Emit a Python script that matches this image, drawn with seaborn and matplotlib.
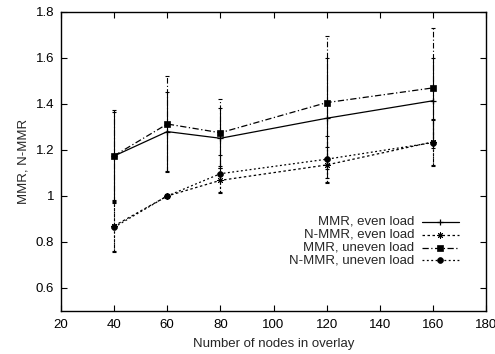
import numpy as np
import pandas as pd
import matplotlib
matplotlib.use("Agg")
import matplotlib.pyplot as plt
from matplotlib.ticker import FuncFormatter, MultipleLocator
from matplotlib.lines import Line2D
import seaborn as sns

nodes = [40, 60, 80, 120, 160]
mmr_even = [1.174, 1.28, 1.251, 1.338, 1.414]
mmr_even_err = [0.19, 0.17, 0.13, 0.26, 0.185]
nmmr_even = [0.87, 1.0, 1.068, 1.135, 1.235]
nmmr_even_err = [0.11, 0.005, 0.055, 0.08, 0.1]
mmr_uneven = [1.175, 1.313, 1.275, 1.406, 1.47]
mmr_uneven_err = [0.2, 0.207, 0.145, 0.29, 0.26]
nmmr_uneven = [0.864, 1.0, 1.097, 1.16, 1.232]
nmmr_uneven_err = [0.107, 0.005, 0.08, 0.1, 0.1]

labels = ["MMR, even load", "N-MMR, even load", "MMR, uneven load", "N-MMR, uneven load"]

sns.set_style("ticks")
plt.rcParams['font.family'] = ['Liberation Sans', 'DejaVu Sans']
plt.rcParams['font.size'] = 9.5

fig = plt.figure(figsize=(4.95, 3.54), dpi=100)
ax = fig.add_axes([61/495, 43/354, 425/495, 299/354])

series = [
    (labels[0], mmr_even, mmr_even_err, '-', dict(marker='+', ms=5, mew=0.9)),
    (labels[1], nmmr_even, nmmr_even_err, (0, (2, 2)), dict(marker=(8, 2, 0), ms=4.5, mew=0.7)),
    (labels[2], mmr_uneven, mmr_uneven_err, (0, (5, 2, 1, 2)), dict(marker='s', ms=4)),
    (labels[3], nmmr_uneven, nmmr_uneven_err, (0, (1.5, 2)), dict(marker='o', ms=4.2)),
]

rows = []
for lab, vals, errs, ls, mk in series:
    for n, v in zip(nodes, vals):
        rows.append({"nodes": n, "value": v, "series": lab})
df = pd.DataFrame(rows)

for lab, vals, errs, ls, mk in series:
    sub = df[df["series"] == lab]
    sns.lineplot(data=sub, x="nodes", y="value", ax=ax, color='black',
                 linewidth=0.9, linestyle=ls if isinstance(ls, str) else '-',
                 marker=mk['marker'], markersize=mk['ms'],
                 markeredgewidth=mk.get('mew', 0.5), markerfacecolor='black',
                 markeredgecolor='black', legend=False)
    line = ax.get_lines()[-1]
    if not isinstance(ls, str):
        line.set_linestyle(ls)
    eb = ax.errorbar(nodes, vals, yerr=errs, fmt='none', ecolor='black',
                     elinewidth=0.8, capsize=1.5, capthick=0.8)
    for col in eb[2]:
        col.set_linestyle(ls if not isinstance(ls, str) else '-')

ax.set_xlim(20, 180)
ax.set_ylim(0.5, 1.8)
ax.xaxis.set_major_locator(MultipleLocator(20))
ax.set_yticks([0.6, 0.8, 1.0, 1.2, 1.4, 1.6, 1.8])
ax.yaxis.set_major_formatter(FuncFormatter(lambda v, p: "%g" % round(v, 2)))
ax.tick_params(direction='in', length=4, width=0.8, top=True, right=True,
               labelsize=9.5, colors='black')
ax.tick_params(axis='y', pad=5)
ax.tick_params(axis='x', pad=6)
for s in ax.spines.values():
    s.set_linewidth(1.0)
    s.set_color('black')
    s.set_visible(True)
ax.set_xlabel("Number of nodes in overlay", fontsize=9.5, labelpad=5)
ax.set_ylabel("MMR, N-MMR", fontsize=9.5, labelpad=4)

# gnuplot-style key (text right-aligned, sample on the right)
ys = [0.2987, 0.2552, 0.2117, 0.1696]
for (lab, vals, errs, ls, mk), yy in zip(series, ys):
    ax.text(0.8306, yy, lab, transform=ax.transAxes, ha='right', va='center', fontsize=9.5)
    ln = Line2D([0.849, 0.9365], [yy, yy], transform=ax.transAxes, color='black',
                linewidth=0.9, linestyle=ls)
    ax.add_line(ln)
    mkl = Line2D([0.892], [yy], transform=ax.transAxes, color='black',
                 marker=mk['marker'], markersize=mk['ms'], markeredgewidth=mk.get('mew', 0.5),
                 linestyle='none')
    ax.add_line(mkl)

fig.savefig("out.png", dpi=100)
